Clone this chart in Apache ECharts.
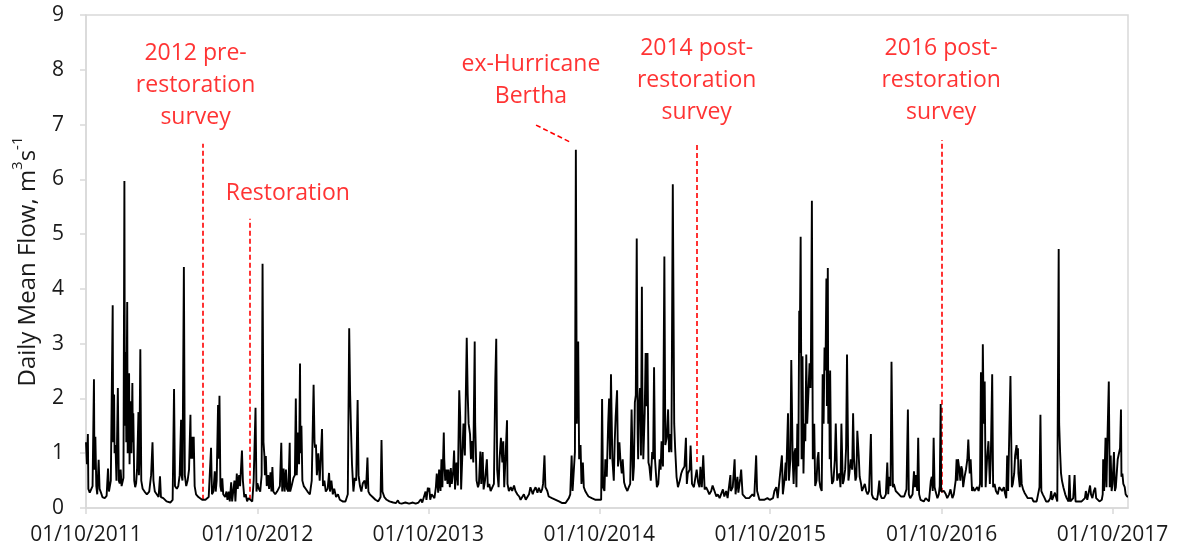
<!DOCTYPE html>
<html>
<head>
<meta charset="utf-8">
<script src="https://cdn.jsdelivr.net/npm/echarts@6/dist/echarts.min.js"></script>
<style>
  html, body { margin: 0; padding: 0; background: #fff; }
  #chart { width: 1181px; height: 554px; }
</style>
</head>
<body>
<div id="chart"></div>
<script>
// ---- Daily mean flow (m3/s): [day of water year (0 = 1 October), flow] ----
const wy2012 = [[0,1.2],[2,0.8],[4,1.35],[5,0.35],[8,0.28],[11,0.25],[14,0.4],[17,2.35],[18,0.7],[20,1.3],[22,0.4],[24,0.25],[27,0.88],[29,0.35],[32,0.28],[35,0.2],[40,0.18],[44,0.22],[47,0.72],[49,0.3],[53,0.5],[57,3.7],[58,1.2],[60,2.07],[61,1.0],[63,1.15],[65,0.5],[68,2.19],[70,0.5],[72,0.45],[74,0.7],[76,0.4],[80,0.55],[82,5.97],[83,1.5],[85,2.85],[86,1.2],[88,3.76],[89,1.0],[90,1.6],[92,2.46],[93,0.8],[94,1.5],[96,1.95],[97,1.0],[99,2.28],[100,1.2],[101,1.73],[103,0.5],[105,0.38],[107,0.45],[109,0.7],[112,1.75],[113,0.6],[114,0.9],[116,2.9],[118,0.5],[121,0.35],[125,0.3],[130,0.25],[135,0.3],[139,0.6],[142,1.2],[144,0.5],[147,0.3],[151,0.25],[155,0.2],[158,0.58],[160,0.2],[165,0.18],[172,0.12],[180,0.1],[185,0.15],[188,2.17],[190,0.4],[194,0.35],[197,0.4],[200,0.6],[203,1.61],[204,0.6],[206,0.5],[209,4.4],[211,0.6],[214,0.4],[217,0.5],[220,0.7],[223,1.7],[224,0.9],[227,1.3],[228,0.9],[230,1.3],[232,0.4],[235,0.25],[240,0.2],[244,0.18],[248,0.15],[255,0.15],[262,0.2],[267,1.1],[269,0.25],[272,0.3],[275,0.67],[277,0.3],[279,0.5],[282,1.88],[283,0.9],[285,2.05],[287,0.4],[289,0.3],[291,0.54],[293,0.25],[297,0.2],[300,0.3],[302,0.15],[305,0.3],[307,0.12],[310,0.47],[312,0.12],[315,0.15],[317,0.5],[319,0.12],[322,0.63],[324,0.35],[327,0.6],[329,0.4],[333,1.05],[335,0.5],[338,0.2],[341,0.25],[344,0.12],[347,0.18],[351,0.15],[355,0.12],[358,0.5],[362,1.83],[364,0.3]];
const wy2013 = [[0,0.45],[3,0.35],[6,0.3],[9,0.6],[11,4.46],[13,1.2],[15,0.95],[16,0.6],[18,0.95],[20,0.4],[23,0.6],[25,0.35],[28,0.65],[30,0.3],[32,0.75],[34,0.3],[38,0.25],[42,0.3],[45,0.35],[48,0.4],[51,1.19],[53,0.3],[56,0.72],[58,0.3],[61,0.7],[63,0.35],[66,0.3],[69,1.19],[70,0.3],[73,0.4],[77,0.55],[80,0.6],[82,2.0],[84,0.6],[87,1.38],[89,0.8],[91,2.64],[92,1.0],[94,1.5],[96,0.5],[99,0.4],[103,0.35],[107,0.3],[112,0.25],[116,0.5],[120,2.25],[122,1.2],[123,1.1],[125,1.16],[127,0.6],[130,1.0],[133,0.5],[138,1.44],[140,0.4],[143,0.5],[146,0.3],[150,0.35],[153,0.64],[155,0.3],[158,0.5],[161,0.25],[164,0.35],[168,0.2],[172,0.25],[176,0.15],[182,0.12],[188,0.12],[193,0.25],[196,3.28],[198,2.08],[200,1.4],[202,0.8],[205,0.3],[208,0.55],[211,0.5],[214,1.97],[216,0.6],[219,0.4],[222,0.3],[225,0.45],[229,0.5],[232,0.35],[235,0.92],[237,0.3],[240,0.25],[246,0.2],[252,0.15],[258,0.12],[263,0.2],[265,1.24],[267,0.3],[271,0.2],[276,0.15],[282,0.12],[290,0.1],[296,0.09],[300,0.14],[303,0.09],[308,0.08],[316,0.1],[324,0.08],[332,0.1],[338,0.08],[344,0.1],[349,0.16],[352,0.1],[356,0.1],[359,0.3],[361,0.15],[364,0.37]];
const wy2014 = [[0,0.3],[2,0.37],[4,0.15],[7,0.25],[9,0.28],[13,0.18],[16,0.37],[18,0.63],[21,0.28],[23,0.7],[26,0.31],[28,0.89],[30,0.38],[33,1.38],[34,0.89],[36,0.5],[39,0.7],[41,0.44],[43,0.7],[46,0.38],[48,0.73],[50,0.44],[53,0.67],[55,1.05],[57,0.34],[60,0.83],[63,0.41],[66,2.15],[68,1.67],[70,0.34],[73,0.31],[75,1.54],[78,0.96],[80,2.06],[82,3.11],[84,2.09],[86,1.54],[89,1.35],[91,0.89],[93,1.22],[96,0.83],[99,3.04],[100,1.54],[103,0.5],[106,0.38],[108,0.44],[111,1.03],[113,0.44],[116,1.02],[118,0.34],[121,0.5],[125,0.89],[127,0.38],[130,0.44],[133,0.31],[137,0.34],[140,0.44],[143,2.35],[145,3.09],[147,0.7],[150,0.38],[152,0.89],[155,1.28],[158,0.83],[160,1.22],[162,0.38],[165,0.96],[168,1.6],[169,0.44],[172,0.31],[176,0.38],[179,0.31],[183,0.41],[186,0.31],[190,0.25],[194,0.21],[197,0.15],[201,0.18],[204,0.25],[208,0.15],[215,0.25],[218,0.38],[220,0.41],[223,0.25],[225,0.31],[229,0.38],[233,0.28],[236,0.37],[240,0.28],[243,0.34],[245,0.44],[248,0.96],[250,0.38],[254,0.31],[257,0.21],[261,0.21],[264,0.18],[272,0.15],[279,0.12],[286,0.09],[293,0.09],[296,0.12],[300,0.18],[303,0.25],[306,0.96],[308,0.31],[311,0.28],[313,1.02],[315,6.54],[317,1.54],[320,3.04],[322,0.89],[325,1.15],[327,0.44],[330,0.83],[332,0.38],[335,0.31],[339,0.25],[342,0.21],[349,0.18],[357,0.15],[363,0.15]];
const wy2015 = [[1,0.15],[4,0.15],[6,1.99],[8,0.38],[11,0.31],[13,0.89],[16,0.57],[19,1.54],[21,2.0],[23,0.89],[25,2.44],[26,1.86],[28,0.89],[31,0.5],[33,1.22],[35,1.67],[38,2.15],[40,0.76],[43,1.2],[45,0.89],[48,0.63],[50,0.89],[53,0.47],[56,0.38],[60,0.31],[63,0.38],[66,0.44],[67,0.89],[69,1.8],[72,0.5],[74,0.76],[76,1.93],[78,2.06],[80,4.92],[82,1.35],[83,0.89],[84,1.67],[87,2.19],[89,0.96],[91,4.04],[92,2.19],[94,0.89],[97,1.73],[99,2.83],[101,1.86],[103,2.83],[105,0.83],[107,0.76],[110,0.5],[113,1.02],[115,0.89],[117,2.57],[119,0.89],[121,0.63],[123,0.38],[126,0.44],[129,0.89],[131,0.7],[133,1.22],[136,0.76],[139,4.59],[141,1.15],[144,1.28],[147,1.8],[149,1.02],[151,1.35],[154,1.02],[157,5.91],[160,1.54],[162,1.09],[165,0.57],[168,0.38],[172,0.5],[175,0.63],[178,0.7],[182,0.76],[185,1.28],[187,0.44],[189,0.63],[193,0.7],[195,1.14],[198,0.44],[202,0.38],[205,0.38],[208,0.7],[211,0.47],[214,0.38],[216,0.75],[219,0.38],[222,0.96],[225,0.34],[228,0.38],[232,0.31],[235,0.25],[239,0.31],[242,0.41],[246,0.38],[250,0.21],[253,0.25],[257,0.18],[260,0.21],[264,0.34],[267,0.21],[271,0.31],[274,0.18],[280,0.6],[281,0.31],[285,0.38],[289,0.89],[291,0.25],[295,0.57],[297,0.28],[301,0.54],[303,0.7],[306,0.25],[310,0.28],[313,0.18],[317,0.15],[320,0.18],[324,0.15],[327,0.25],[331,0.21],[335,0.96],[337,0.31],[342,0.15],[345,0.18],[352,0.15],[359,0.18],[364,0.15]];
const wy2016 = [[0,0.15],[6,0.18],[9,0.31],[13,0.38],[16,0.18],[20,0.21],[25,0.96],[27,0.25],[30,0.47],[33,0.83],[34,0.5],[38,1.73],[40,0.5],[43,0.89],[45,2.7],[48,0.89],[50,0.44],[52,1.02],[54,1.09],[56,0.38],[58,1.54],[60,0.76],[62,3.6],[63,2.83],[65,4.95],[67,0.89],[69,2.77],[71,0.63],[73,1.54],[75,1.22],[77,2.8],[79,1.54],[82,2.19],[84,2.64],[86,2.19],[87,2.83],[89,5.61],[91,0.89],[94,1.54],[96,0.4],[99,0.5],[101,0.89],[103,1.02],[105,0.5],[107,0.38],[110,0.31],[112,2.44],[114,1.54],[116,2.93],[118,2.51],[120,4.19],[121,1.86],[123,4.38],[124,1.54],[126,2.45],[127,0.89],[128,2.51],[130,0.76],[132,0.44],[135,0.5],[138,0.89],[140,1.54],[143,0.5],[145,0.57],[148,0.63],[150,0.38],[152,1.54],[155,0.44],[157,0.5],[160,0.7],[162,1.09],[164,2.8],[167,0.5],[169,0.63],[172,0.89],[175,0.7],[177,1.73],[179,0.89],[182,0.5],[184,0.57],[186,1.41],[189,0.96],[191,0.57],[194,0.44],[196,0.31],[199,0.31],[202,0.44],[205,0.31],[208,0.25],[211,0.31],[215,1.35],[217,0.25],[220,0.18],[223,0.15],[228,0.15],[230,0.25],[233,0.5],[235,0.25],[238,0.18],[243,0.18],[247,0.25],[250,0.83],[252,0.25],[254,0.57],[257,0.4],[259,2.67],[262,0.38],[264,0.44],[268,0.31],[272,0.28],[275,0.25],[279,0.21],[282,0.18],[286,0.21],[290,0.18],[291,0.34],[294,1.8],[296,0.25],[299,0.18],[301,0.18],[304,0.25],[307,0.67],[309,0.38],[311,0.6],[314,0.31],[316,1.28],[318,0.25],[321,0.15],[325,0.12],[328,0.12],[332,0.18],[335,0.15],[339,0.12],[343,0.5],[345,0.57],[347,0.31],[349,1.28],[351,0.38],[353,0.31],[357,0.18],[360,0.25],[362,0.4],[364,1.9],[365,0.3]];
const wy2017 = [[2,0.31],[5,0.31],[9,0.25],[12,0.18],[16,0.25],[19,0.34],[23,0.18],[26,0.25],[30,0.5],[32,0.89],[34,0.5],[35,0.89],[38,0.7],[40,0.5],[42,0.76],[44,0.7],[46,0.38],[49,0.57],[52,0.7],[55,0.89],[57,1.25],[60,0.63],[62,0.89],[65,0.31],[67,0.38],[70,0.31],[73,0.28],[76,0.38],[79,0.31],[82,0.44],[84,2.48],[86,0.38],[88,2.99],[90,1.54],[92,2.31],[94,0.38],[97,0.89],[100,1.22],[103,0.44],[105,0.89],[108,2.44],[110,0.38],[113,0.44],[116,0.31],[120,0.25],[123,0.38],[125,0.41],[129,0.31],[133,0.38],[135,0.28],[138,0.18],[140,0.96],[142,0.31],[145,0.31],[147,2.41],[150,0.38],[152,0.44],[155,0.63],[157,0.96],[160,1.15],[162,0.89],[163,1.09],[164,0.63],[167,0.38],[169,0.89],[171,0.44],[174,0.34],[177,0.28],[180,0.25],[184,0.18],[188,0.15],[193,0.18],[196,0.12],[203,0.12],[207,0.15],[209,0.38],[211,1.7],[213,0.31],[216,0.25],[220,0.18],[223,0.12],[228,0.12],[232,0.18],[234,0.31],[236,0.15],[239,0.18],[242,0.28],[245,0.18],[247,0.12],[250,4.73],[251,1.54],[253,1.02],[255,0.63],[257,0.5],[260,0.38],[264,0.25],[267,0.18],[271,0.12],[273,0.6],[275,0.12],[278,0.15],[281,0.18],[284,0.6],[286,0.12],[292,0.12],[299,0.12],[306,0.18],[308,0.31],[311,0.15],[315,0.18],[317,0.41],[319,0.25],[322,0.18],[325,0.31],[328,0.37],[330,0.18],[333,0.15],[337,0.12],[342,0.15],[344,0.25],[345,0.89],[347,0.31],[350,1.28],[352,0.38],[354,1.22],[357,2.31],[359,0.38],[361,0.96],[363,0.31]];
const wy2018 = [[0,0.44],[3,1.02],[5,0.31],[7,0.38],[11,0.89],[13,0.89],[16,1.09],[18,1.8],[19,0.57],[21,0.63],[23,0.44],[26,0.38],[28,0.25],[31,0.21],[33,0.21]];
const waterYearStarts = [2011, 2012, 2013, 2014, 2015, 2016, 2017];
const waterYears = [wy2012, wy2013, wy2014, wy2015, wy2016, wy2017, wy2018];

// ---- Axis ----
const xTickDates = ['2011-10-01','2012-10-01','2013-10-01','2014-10-01','2015-10-01','2016-10-01','2017-10-01'];
const xMinDate = '2011-10-01';
const xMaxDate = '2017-11-03';
const yTicks = [0, 9, 1]; // min, max, interval

// ---- Annotations ----
const noteText = ['2012 pre-\nrestoration\nsurvey', 'Restoration', 'ex-Hurricane\nBertha', '2014 post-\nrestoration\nsurvey', '2016 post-\nrestoration\nsurvey'];
const noteDate = ['2012-05-22', '2012-12-05', '2014-05-08', '2015-04-27', '2016-09-30'];
const noteY = [7.72, 5.75, 7.8, 7.8, 7.8];
const markerDate = ['2012-06-06', '2012-09-14', '2015-04-28', '2016-10-02'];
const markerFrom = [0.15, 0.15, 0.84, 0.28];
const markerTo = [6.65, 5.28, 6.65, 6.72];
const leaderFrom = ['2014-05-19', 6.99];
const leaderTo = ['2014-08-02', 6.67];

const DAY = 86400000;
function ts(s) { const p = s.split('-').map(Number); return Date.UTC(p[0], p[1] - 1, p[2]); }
function pad(n) { return (n < 10 ? '0' : '') + n; }
function fmt(t) { const d = new Date(t); return pad(d.getUTCDate()) + '/' + pad(d.getUTCMonth() + 1) + '/' + d.getUTCFullYear(); }

const flowData = [];
waterYears.forEach((arr, i) => {
  const start = Date.UTC(waterYearStarts[i], 9, 1);
  arr.forEach(([d, v]) => flowData.push([start + d * DAY, v]));
});

const tickTimes = xTickDates.map(ts);
const FONT = 'Open Sans';
const TXT = '#1a1a1a';
const AX = '#d9d9d9';

const markLines = markerDate.map((d, i) => [{ coord: [ts(d), markerFrom[i]] }, { coord: [ts(d), markerTo[i]] }]);
markLines.push([{ coord: [ts(leaderFrom[0]), leaderFrom[1]] }, { coord: [ts(leaderTo[0]), leaderTo[1]] }]);

const chart = echarts.init(document.getElementById('chart'), null, { renderer: 'canvas' });
chart.setOption({
  animation: false,
  backgroundColor: '#ffffff',
  grid: { left: 82, right: 53, top: 15, bottom: 46, show: true, borderColor: AX, borderWidth: 1.5, containLabel: false },
  xAxis: {
    type: 'value',
    min: ts(xMinDate),
    max: ts(xMaxDate),
    scale: true,
    splitLine: { show: false },
    axisLine: { show: true, lineStyle: { color: AX, width: 1.5 } },
    axisTick: { show: true, length: 6, inside: false, lineStyle: { color: AX, width: 1.5 }, customValues: tickTimes },
    axisLabel: { customValues: tickTimes, formatter: (v) => fmt(v), fontSize: 21, color: TXT, fontFamily: FONT, margin: 17, hideOverlap: false }
  },
  yAxis: {
    type: 'value',
    min: yTicks[0], max: yTicks[1], interval: yTicks[2],
    splitLine: { show: false },
    axisLine: { show: true, lineStyle: { color: AX, width: 1.5 } },
    axisTick: { show: true, length: 6, lineStyle: { color: AX, width: 1.5 } },
    axisLabel: { fontSize: 21, color: TXT, fontFamily: FONT, margin: 22 },
    name: '{t|Daily Mean Flow, m}{s|3}{t|s}{s|-1}',
    nameLocation: 'middle',
    nameRotate: 90,
    nameGap: 46,
    nameTextStyle: {
      rich: {
        t: { fontSize: 24, fontFamily: FONT, color: TXT, lineHeight: 32, verticalAlign: 'bottom' },
        s: { fontSize: 15, fontFamily: FONT, color: TXT, lineHeight: 32, verticalAlign: 'top', padding: [2, 0, 0, 0] }
      }
    }
  },
  series: [
    {
      type: 'line',
      data: flowData,
      showSymbol: false,
      symbol: 'none',
      lineStyle: { color: '#000000', width: 1.9 },
      z: 3,
      markLine: {
        silent: true,
        symbol: ['none', 'none'],
        label: { show: false },
        lineStyle: { color: '#ff0000', type: [5, 3], width: 1.6 },
        data: markLines,
        z: 2
      }
    },
    {
      type: 'scatter',
      data: noteDate.map((d, i) => [ts(d), noteY[i]]),
      symbolSize: 1,
      itemStyle: { color: 'rgba(0,0,0,0)' },
      silent: true,
      label: {
        show: true,
        position: 'inside',
        formatter: (p) => noteText[p.dataIndex],
        color: '#ff0000',
        fontSize: 23,
        lineHeight: 32,
        fontFamily: FONT,
        align: 'center',
        verticalAlign: 'middle'
      }
    }
  ]
});
</script>
</body>
</html>
